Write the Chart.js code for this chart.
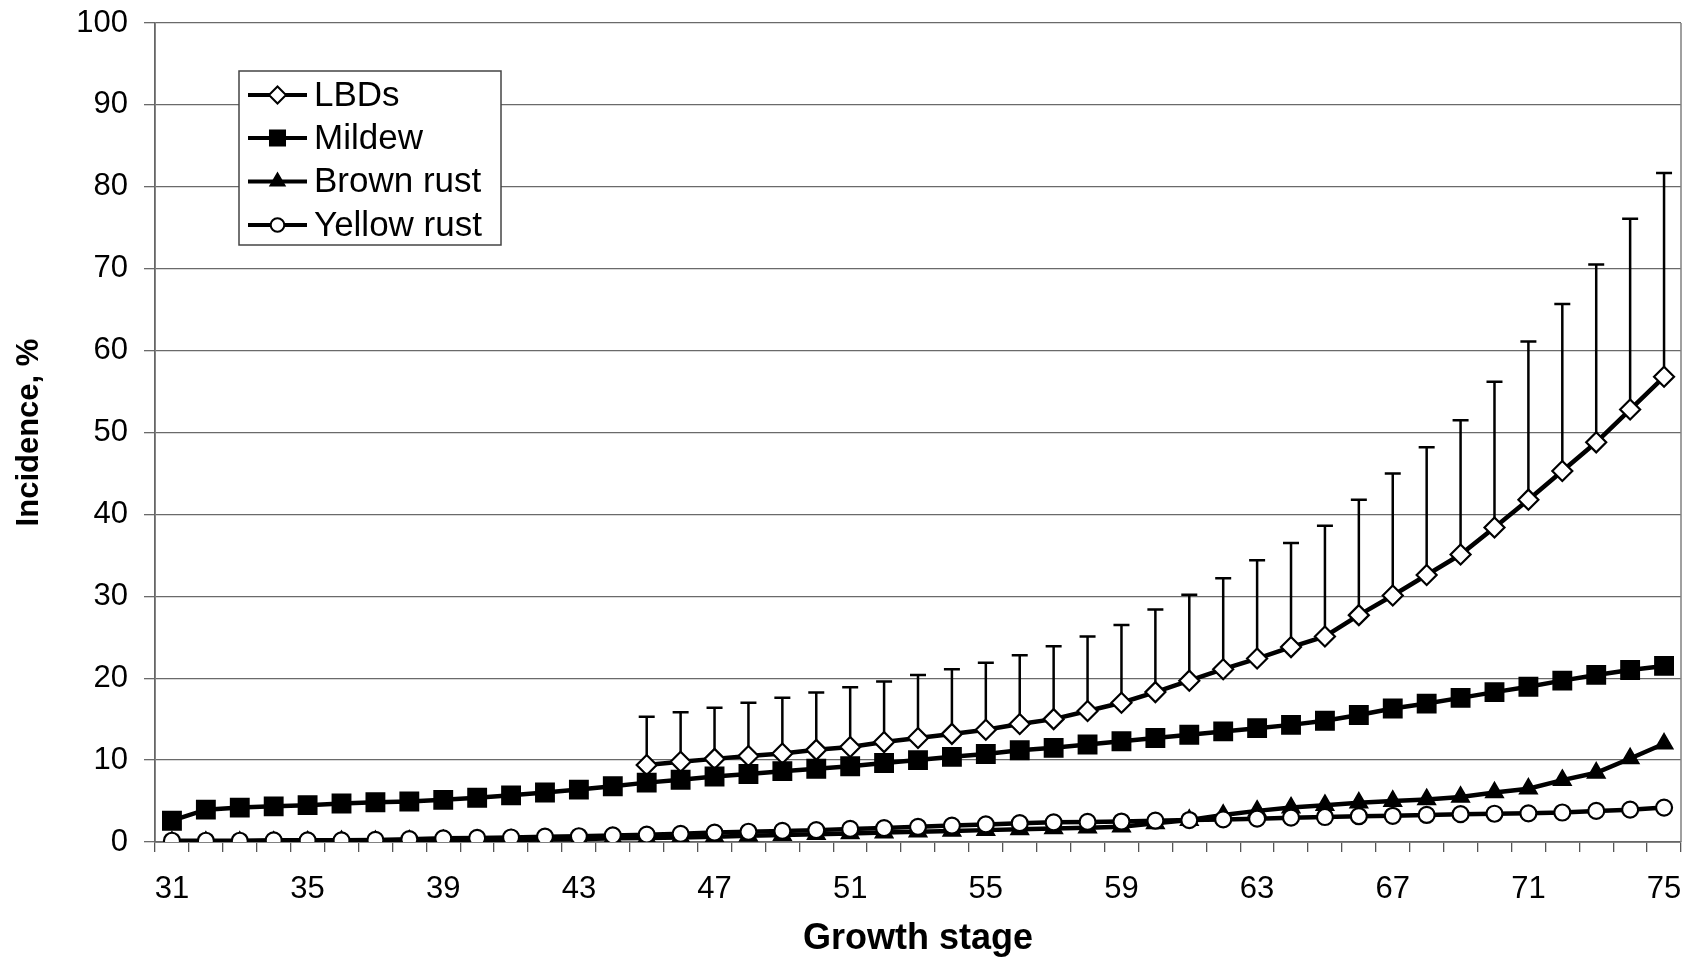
<!DOCTYPE html>
<html>
<head>
<meta charset="utf-8">
<script src="https://cdn.jsdelivr.net/npm/chart.js@4.4.1/dist/chart.umd.min.js"></script>
<style>
  body { margin: 0; background: #fff; }
</style>
</head>
<body>
<canvas id="chart" width="1702" height="958"></canvas>
<script>
// growth stages 31..75
const stages = ['31','32','33','34','35','36','37','38','39','40',
  '41','42','43','44','45','46','47','48','49','50',
  '51','52','53','54','55','56','57','58','59','60',
  '61','62','63','64','65','66','67','68','69','70',
  '71','72','73','74','75'];

const lbds = [null,null,null,null,null,null,null,null,null,null,
  null,null,null,null,9.4,9.8,10.15,10.5,10.8,11.25,
  11.6,12.2,12.7,13.2,13.7,14.4,15.0,16.0,17.0,18.3,
  19.7,21.1,22.4,23.8,25.1,27.7,30.1,32.6,35.1,38.4,
  41.8,45.3,48.8,52.8,56.8];

// top of the error bar for LBDs
const lbdsUpper = [null,null,null,null,null,null,null,null,null,null,
  null,null,null,null,15.3,15.85,16.4,17.0,17.6,18.25,
  18.9,19.6,20.4,21.1,21.9,22.8,23.9,25.1,26.5,28.4,
  30.2,32.2,34.4,36.5,38.6,41.8,45.0,48.2,51.5,56.2,
  61.1,65.7,70.5,76.1,81.7];

const mildew = [2.6,3.95,4.2,4.35,4.5,4.7,4.85,4.95,5.15,5.4,
  5.7,6.05,6.4,6.8,7.25,7.6,8.0,8.3,8.65,8.95,
  9.25,9.65,10.0,10.4,10.75,11.2,11.5,11.9,12.3,12.7,
  13.1,13.5,13.9,14.3,14.8,15.5,16.3,16.9,17.6,18.3,
  18.95,19.7,20.4,21.0,21.5];

const brownRust = [0.0,0.0,0.0,0.0,0.05,0.1,0.1,0.15,0.2,0.2,
  0.25,0.3,0.35,0.45,0.5,0.55,0.65,0.75,0.85,0.95,
  1.05,1.15,1.25,1.35,1.45,1.55,1.65,1.75,1.87,2.28,
  2.68,3.3,3.8,4.2,4.5,4.8,5.0,5.2,5.5,6.05,
  6.5,7.55,8.45,10.2,12.0];

const yellowRust = [0.15,0.15,0.15,0.2,0.2,0.2,0.25,0.35,0.45,0.5,
  0.55,0.65,0.7,0.8,0.9,1.0,1.15,1.25,1.35,1.45,
  1.6,1.7,1.85,2.0,2.15,2.3,2.4,2.45,2.5,2.6,
  2.68,2.76,2.85,2.97,3.05,3.15,3.2,3.3,3.4,3.45,
  3.5,3.6,3.8,3.95,4.2];

const yTicks = [0,10,20,30,40,50,60,70,80,90,100];

const FONT = "'Liberation Sans', Arial, sans-serif";

function series(label, data, style, radius, fill, order) {
  return {
    label: label,
    data: data,
    order: order,
    borderColor: '#000',
    borderWidth: 4.5,
    tension: 0,
    spanGaps: false,
    pointStyle: style,
    pointRadius: radius,
    pointHoverRadius: radius,
    pointBackgroundColor: fill,
    pointBorderColor: '#000',
    pointBorderWidth: 2.2
  };
}

const errorBars = {
  id: 'errorBars',
  beforeDatasetsDraw(chart) {
    const ctx = chart.ctx;
    const x = chart.scales.x, y = chart.scales.y;
    ctx.save();
    ctx.strokeStyle = '#000';
    ctx.lineWidth = 2.5;
    lbdsUpper.forEach((top, i) => {
      if (top == null) return;
      const px = x.getPixelForValue(i);
      const y0 = y.getPixelForValue(lbds[i]);
      const y1 = y.getPixelForValue(top);
      ctx.beginPath();
      ctx.moveTo(px, y0);
      ctx.lineTo(px, y1);
      ctx.moveTo(px - 8, y1);
      ctx.lineTo(px + 8, y1);
      ctx.stroke();
    });
    ctx.restore();
  }
};

const frame = {
  id: 'frame',
  beforeDatasetsDraw(chart) {
    const a = chart.chartArea, ctx = chart.ctx;
    ctx.save();
    ctx.strokeStyle = '#808080';
    ctx.lineWidth = 1.5;
    ctx.beginPath();
    ctx.moveTo(a.right, a.top);
    ctx.lineTo(a.right, a.bottom);
    ctx.stroke();
    ctx.restore();
  }
};

// legend box drawn inside the plot, upper left
const legendBox = {
  id: 'legendBox',
  afterDraw(chart) {
    const ctx = chart.ctx;
    const bx = 239, by = 71, bw = 262, bh = 174;
    ctx.save();
    ctx.fillStyle = '#fff';
    ctx.fillRect(bx, by, bw, bh);
    ctx.strokeStyle = '#444';
    ctx.lineWidth = 1.5;
    ctx.strokeRect(bx, by, bw, bh);
    const rows = [95, 138, 181.5, 225];
    chart.data.datasets.forEach((ds, i) => {
      const cy = rows[i];
      ctx.strokeStyle = '#000';
      ctx.lineWidth = 4;
      ctx.beginPath();
      ctx.moveTo(248, cy);
      ctx.lineTo(307, cy);
      ctx.stroke();
      ctx.fillStyle = ds.pointBackgroundColor;
      ctx.lineWidth = 2;
      Chart.helpers.drawPoint(ctx, {
        pointStyle: ds.pointStyle,
        radius: ds.pointRadius * 0.85,
        borderWidth: 2,
        rotation: 0
      }, 277.5, cy);
      ctx.fillStyle = '#000';
      ctx.font = '35px ' + FONT;
      ctx.textBaseline = 'middle';
      ctx.textAlign = 'left';
      ctx.fillText(ds.label, 314, cy + 1);
    });
    ctx.restore();
  }
};

new Chart(document.getElementById('chart'), {
  type: 'line',
  data: {
    labels: stages,
    datasets: [
      series('LBDs', lbds, 'rectRot', 10, '#fff', 4),
      series('Mildew', mildew, 'rect', 12.5, '#000', 3),
      series('Brown rust', brownRust, 'triangle', 9.5, '#000', 2),
      series('Yellow rust', yellowRust, 'circle', 8, '#fff', 1)
    ]
  },
  options: {
    responsive: false,
    devicePixelRatio: 1,
    animation: false,
    layout: { padding: { top: 23, right: 21, left: 0, bottom: 0 } },
    plugins: {
      legend: { display: false },
      tooltip: { enabled: false }
    },
    scales: {
      x: {
        type: 'category',
        offset: true,
        afterFit(scale) { scale.height = 116; },
        grid: {
          offset: true,
          drawOnChartArea: false,
          drawTicks: true,
          tickLength: 10,
          color: '#555',
          lineWidth: 1.3
        },
        border: { display: true, color: '#666', width: 1.8 },
        ticks: {
          autoSkip: false,
          maxRotation: 0,
          minRotation: 0,
          padding: 19,
          color: '#000',
          font: { family: FONT, size: 31 },
          callback: (v, i) => (i % 4 === 0 ? stages[i] : '')
        },
        title: {
          display: true,
          text: 'Growth stage',
          color: '#000',
          font: { family: FONT, size: 36, weight: 'bold', lineHeight: 1.0 },
          padding: { top: 0, bottom: 1 }
        }
      },
      y: {
        min: 0,
        max: 100,
        afterFit(scale) {
          scale.width = 155;
          scale.paddingTop = 0;
          scale.paddingBottom = 0;
        },
        afterBuildTicks(scale) { scale.ticks = yTicks.map(v => ({ value: v })); },
        grid: {
          color: '#6a6a6a',
          lineWidth: 1.3,
          drawTicks: true,
          tickLength: 11
        },
        border: { display: true, color: '#666', width: 1.8 },
        ticks: {
          padding: 16,
          color: '#000',
          font: { family: FONT, size: 31 }
        },
        title: {
          display: true,
          text: 'Incidence, %',
          color: '#000',
          font: { family: FONT, size: 31, weight: 'bold' },
          padding: { top: 11, bottom: 0 }
        }
      }
    }
  },
  plugins: [errorBars, frame, legendBox]
});
</script>
</body>
</html>
